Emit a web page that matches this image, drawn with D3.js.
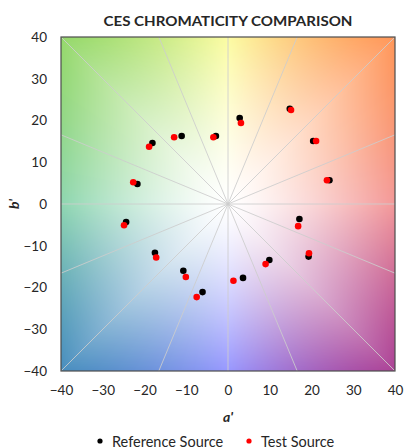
<!DOCTYPE html>
<html lang="en">
<head>
    <meta charset="utf-8">
    <title>CES Chromaticity Comparison</title>
    <script src="https://d3js.org/d3.v7.min.js"></script>
    <style>
        body { margin: 0; background: #fff; }
        text { font-family: Lato, "Open Sans", sans-serif; fill: #262626; }
    </style>
</head>
<body>
<svg width="404" height="448"></svg>
<script>
    // reference source (black) and test source (red), a' / b' per hue bin
    var refA  = [24.3, 20.4, 14.8, 2.8, -2.9, -11.1, -18.1, -21.7, -24.4, -17.5, -10.7, -6.1, 3.6, 9.9, 19.3, 17.1];
    var refB  = [5.7, 15.1, 22.8, 20.6, 16.3, 16.3, 14.6, 4.8, -4.3, -11.7, -16.0, -21.1, -17.7, -13.4, -12.6, -3.6];
    var testA = [23.7, 21.1, 15.1, 3.1, -3.5, -12.9, -18.9, -22.7, -24.9, -17.2, -10.1, -7.5, 1.3, 9.0, 19.4, 16.8];
    var testB = [5.7, 15.1, 22.5, 19.4, 16.0, 16.0, 13.7, 5.2, -5.1, -12.8, -17.5, -22.3, -18.4, -14.4, -11.8, -5.3];
    var tickValues = [-40, -30, -20, -10, 0, 10, 20, 30, 40];
    var seriesNames = ["Reference Source", "Test Source"];
    var seriesColors = ["#000000", "#ff0000"];

    var svg = d3.select("svg");
    var plot = {left: 61, right: 395, top: 37, bottom: 371};

    var xScale = d3.scaleLinear().domain([-40, 40]).range([plot.left, plot.right]);
    var yScale = d3.scaleLinear().domain([-40, 40]).range([plot.bottom, plot.top]);

    // background: hue by angle, fading to white at the centre
    var hueAngles = [0, 45, 90, 135, 180, 225, 270, 315, 360];
    var hueColors = ["rgb(243,152,152)", "rgb(255,150,88)", "rgb(252,252,162)", "rgb(148,216,106)",
                     "rgb(142,214,176)", "rgb(72,142,190)", "rgb(152,152,255)", "rgb(172,66,150)", "rgb(243,152,152)"];
    var hueScale = d3.scaleLinear().domain(hueAngles).range(hueColors).interpolate(d3.interpolateRgb);

    var w = plot.right - plot.left, h = plot.bottom - plot.top;
    var canvas = document.createElement("canvas");
    canvas.width = w; canvas.height = h;
    var ctx = canvas.getContext("2d");
    var img = ctx.createImageData(w, h);
    for (var j = 0; j < h; j++) {
        for (var i = 0; i < w; i++) {
            var a = xScale.invert(plot.left + i + 0.5);
            var b = yScale.invert(plot.top + j + 0.5);
            var rad = Math.atan2(b, a);
            var ang = rad * 180 / Math.PI;
            if (ang < 0) ang += 360;
            var edge = 40 / Math.max(Math.abs(Math.cos(rad)), Math.abs(Math.sin(rad)));
            var t = Math.pow(Math.min(1, Math.sqrt(a * a + b * b) / edge), 1.35);
            var c = d3.rgb(d3.interpolateRgb("#ffffff", hueScale(ang))(t));
            var k = (j * w + i) * 4;
            img.data[k] = c.r; img.data[k + 1] = c.g; img.data[k + 2] = c.b; img.data[k + 3] = 255;
        }
    }
    ctx.putImageData(img, 0, 0);

    svg.append("image")
        .attr("x", plot.left).attr("y", plot.top)
        .attr("width", w).attr("height", h)
        .attr("href", canvas.toDataURL());

    // spokes every 22.5 degrees
    var spokes = d3.range(16).map(function(i) { return i * 22.5 * Math.PI / 180; });
    svg.append("g").selectAll("line")
        .data(spokes)
        .enter()
        .append("line")
        .attr("x1", xScale(0))
        .attr("y1", yScale(0))
        .attr("x2", function(d) { return xScale(40 * Math.cos(d) / Math.max(Math.abs(Math.cos(d)), Math.abs(Math.sin(d)))); })
        .attr("y2", function(d) { return yScale(40 * Math.sin(d) / Math.max(Math.abs(Math.cos(d)), Math.abs(Math.sin(d)))); })
        .attr("stroke", "#cdcdcd")
        .attr("stroke-opacity", 0.85)
        .attr("stroke-width", 1);

    svg.append("rect")
        .attr("x", plot.left).attr("y", plot.top)
        .attr("width", w).attr("height", h)
        .attr("fill", "none")
        .attr("stroke", "#4d4d4d")
        .attr("stroke-width", 1.2);

    // axes (labels only)
    var xAxis = d3.axisBottom(xScale).tickValues(tickValues).tickSize(0).tickPadding(14);
    var yAxis = d3.axisLeft(yScale).tickValues(tickValues).tickSize(0).tickPadding(14);
    var gx = svg.append("g").attr("transform", "translate(0," + plot.bottom + ")").call(xAxis);
    var gy = svg.append("g").attr("transform", "translate(" + plot.left + ",0)").call(yAxis);
    gx.select(".domain").remove();
    gy.select(".domain").remove();
    svg.selectAll(".tick text")
        .attr("font-family", "Lato, sans-serif")
        .attr("font-size", 13.5)
        .attr("fill", "#262626");

    // points
    var refData = refA.map(function(d, i) { return [d, refB[i]]; });
    var testData = testA.map(function(d, i) { return [d, testB[i]]; });
    [refData, testData].forEach(function(data, s) {
        svg.append("g").selectAll("circle")
            .data(data)
            .enter()
            .append("circle")
            .attr("cx", function(d) { return xScale(d[0]); })
            .attr("cy", function(d) { return yScale(d[1]); })
            .attr("r", 3.3)
            .attr("fill", seriesColors[s]);
    });

    // titles
    svg.append("text")
        .attr("x", 228).attr("y", 26)
        .attr("text-anchor", "middle")
        .attr("font-size", 14).attr("font-weight", "bold")
        .attr("textLength", 249).attr("lengthAdjust", "spacingAndGlyphs")
        .text("CES CHROMATICITY COMPARISON");
    svg.append("text")
        .attr("x", 228).attr("y", 422)
        .attr("text-anchor", "middle")
        .attr("font-size", 14).attr("font-weight", "bold").attr("font-style", "italic")
        .text("a'");
    svg.append("text")
        .attr("transform", "translate(19,204) rotate(-90)")
        .attr("text-anchor", "middle")
        .attr("font-size", 14).attr("font-weight", "bold").attr("font-style", "italic")
        .text("b'");

    // legend
    var legendX = [100, 249];
    var legend = svg.append("g").selectAll("g")
        .data(seriesNames)
        .enter()
        .append("g")
        .attr("transform", function(d, i) { return "translate(" + legendX[i] + ",441)"; });
    legend.append("circle").attr("r", 2.6).attr("fill", function(d, i) { return seriesColors[i]; });
    legend.append("text").attr("x", 12).attr("y", 5.5).attr("font-size", 14.5).text(function(d) { return d; });
</script>
</body>
</html>
